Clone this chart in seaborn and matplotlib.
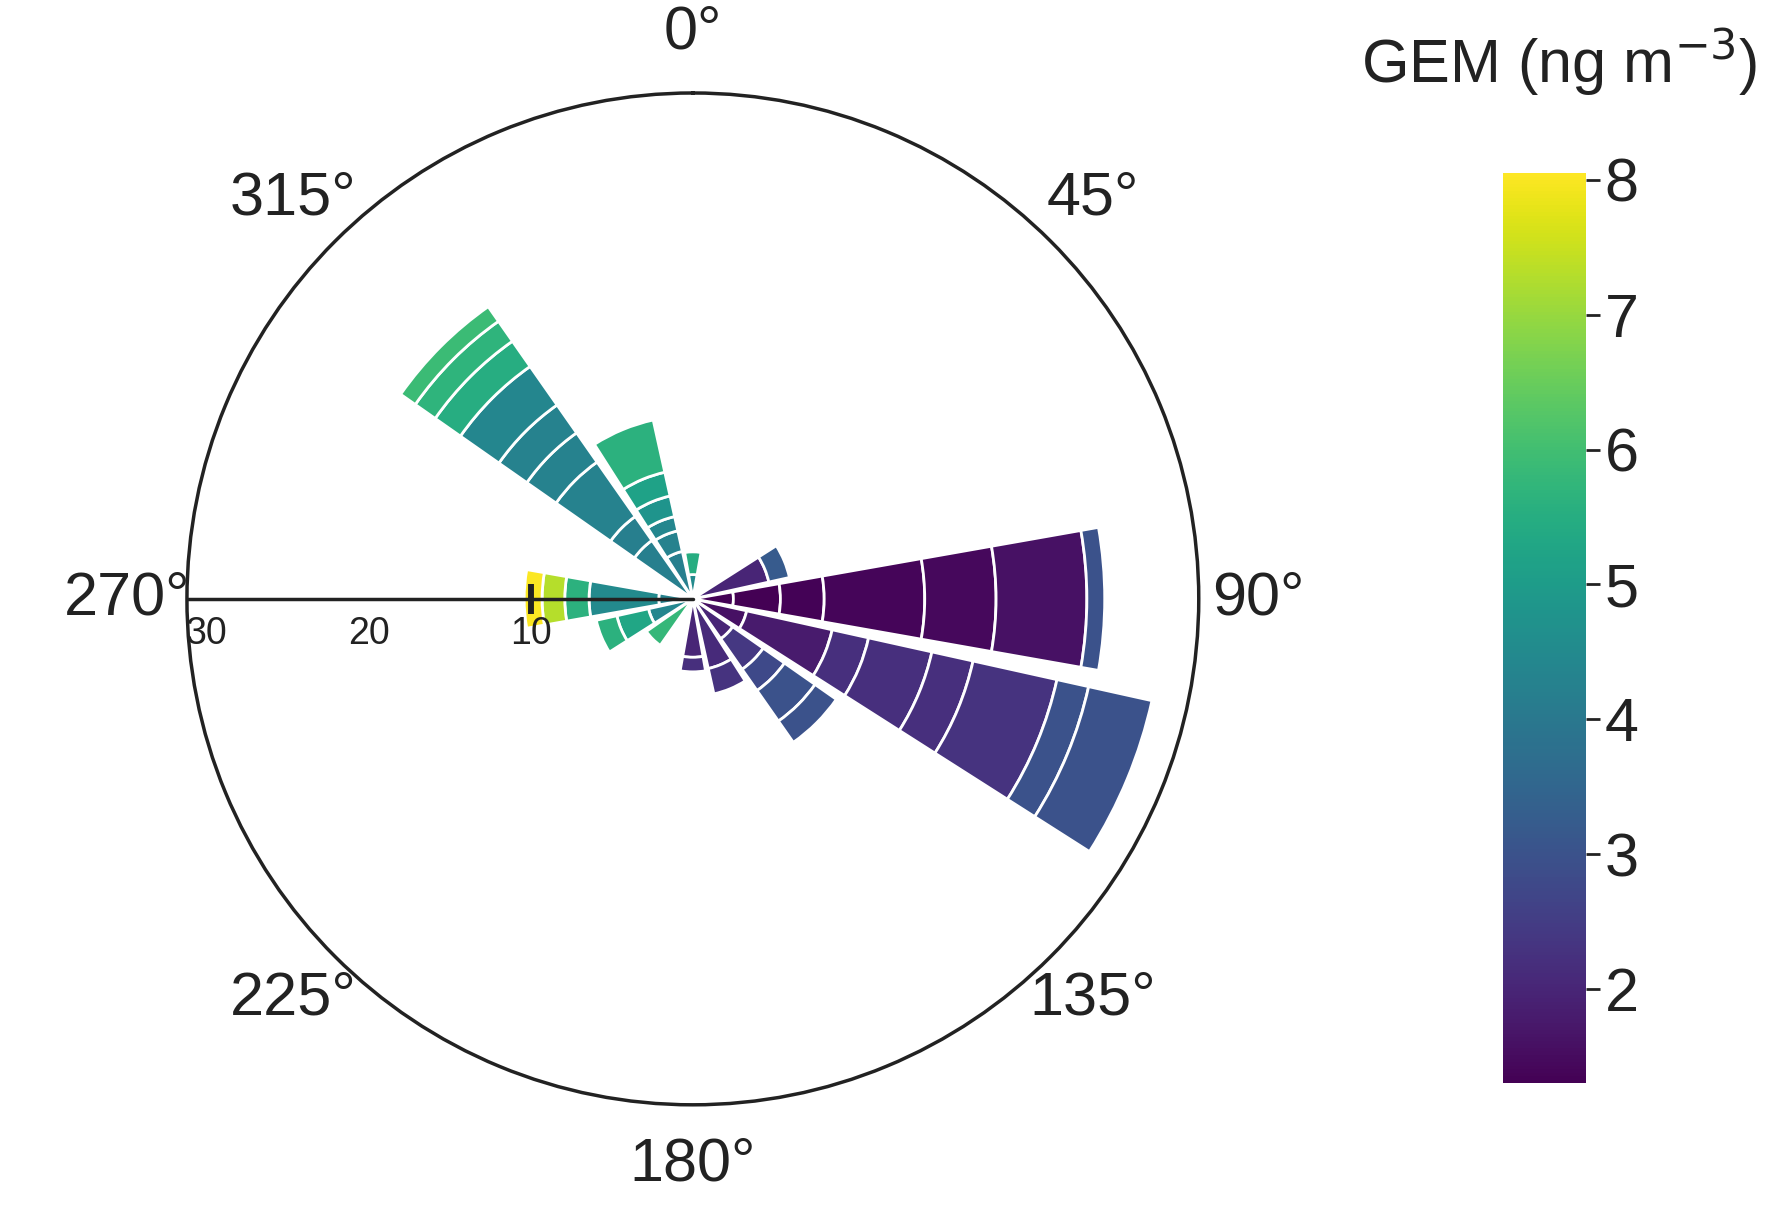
import numpy as np
import matplotlib
matplotlib.use("Agg")
import matplotlib.pyplot as plt
import seaborn as sns

# ── Data: wind direction bins, outer radius of each stacked segment, mean GEM ──
directions = [0, 67.5, 90, 112.5, 135, 157.5, 180, 225, 247.5, 270, 315, 337.5]
seg_edges = [
    [1.5, 2.9],
    [4.8, 6.1],
    [2.5, 5.4, 8.1, 14.3, 18.7, 24.3, 25.4],
    [3.4, 8.8, 11.1, 15.1, 17.7, 23.0, 25.0, 29.0],
    [3.0, 5.3, 6.9, 9.2, 10.8],
    [4.4, 6.0],
    [3.6, 4.5],
    [3.5],
    [2.8, 4.8, 6.1],
    [2.1, 6.4, 7.9, 9.3, 10.4],
    [4.4, 6.2, 10.3, 12.5, 14.6, 17.5, 19.4, 20.9, 22.0],
    [3.0, 4.3, 5.2, 6.5, 8.0, 11.3],
]
seg_gem = [
    [4.5, 5.5],
    [2.0, 3.2],
    [1.35, 1.3, 1.35, 1.4, 1.45, 1.6, 3.0],
    [1.6, 1.8, 2.2, 2.2, 2.2, 2.3, 3.0, 3.0],
    [2.0, 2.4, 2.8, 3.0, 3.0],
    [2.1, 2.3],
    [2.0, 2.2],
    [5.8],
    [4.4, 5.3, 5.6],
    [4.3, 4.5, 5.6, 7.3, 8.0],
    [4.2, 4.2, 4.3, 4.3, 4.3, 4.4, 5.5, 5.7, 5.9],
    [4.2, 4.3, 4.4, 4.8, 5.2, 5.6],
]
r_ticks = [10, 20, 30]
angle_ticks = [0, 45, 90, 135, 180, 225, 270, 315]

GEM_MIN, GEM_MAX = 1.3, 8.05
R_MAX = 31.2

sns.set_theme(style="ticks")
plt.rcParams["font.family"] = ["Liberation Sans", "DejaVu Sans"]

cmap = sns.color_palette("viridis", as_cmap=True)
norm = matplotlib.colors.Normalize(vmin=GEM_MIN, vmax=GEM_MAX)

fig = plt.figure(figsize=(17.72, 12.27), dpi=100)
ax = fig.add_axes([0.1055, 0.0994, 0.571, 0.825], projection="polar")
ax.set_theta_zero_location("N")
ax.set_theta_direction(-1)

width = np.deg2rad(20)
for d, edges, vals in zip(directions, seg_edges, seg_gem):
    bottoms = [0] + edges[:-1]
    heights = np.diff([0] + edges)
    ax.bar(np.full(len(edges), np.deg2rad(d)), heights, bottom=bottoms, width=width,
           color=cmap(norm(np.array(vals))), edgecolor="white", linewidth=2, zorder=2)

ax.set_ylim(0, R_MAX)
ax.grid(False)
ax.set_yticks([])
ax.spines["polar"].set_linewidth(2.5)
ax.spines["polar"].set_color("#222222")

ax.set_xticks(np.deg2rad(angle_ticks))
ax.set_xticklabels([f"{a}°" for a in angle_ticks], fontsize=44, color="#222222")
ax.xaxis.set_tick_params(size=14, width=2.5, color="#222222", direction="out", pad=22)

# radial axis drawn along 270°
ax.plot([np.deg2rad(270)] * 2, [0, R_MAX], color="#222222", lw=2.5, zorder=3)
ax.plot([np.deg2rad(270)] * 2, [r_ticks[0]] * 2, marker="|", markersize=22,
        color="#222222", mew=4, zorder=3)
for r in r_ticks:
    ax.annotate(str(r), xy=(np.deg2rad(270), r), xytext=(0, -12), textcoords="offset points",
                ha="center", va="top", fontsize=27, color="#222222")

cax = fig.add_axes([0.848, 0.117, 0.047, 0.742])
sm = matplotlib.cm.ScalarMappable(norm=norm, cmap=cmap)
cb = fig.colorbar(sm, cax=cax)
cb.outline.set_visible(False)
cb.set_ticks([2, 3, 4, 5, 6, 7, 8])
cb.ax.tick_params(labelsize=44, size=10, width=2, colors="#222222")
fig.text(0.88, 0.92, "GEM (ng m$^{-3}$)", fontsize=44, ha="center", va="bottom", color="#222222")

fig.savefig("out.png", dpi=100, facecolor="white")
